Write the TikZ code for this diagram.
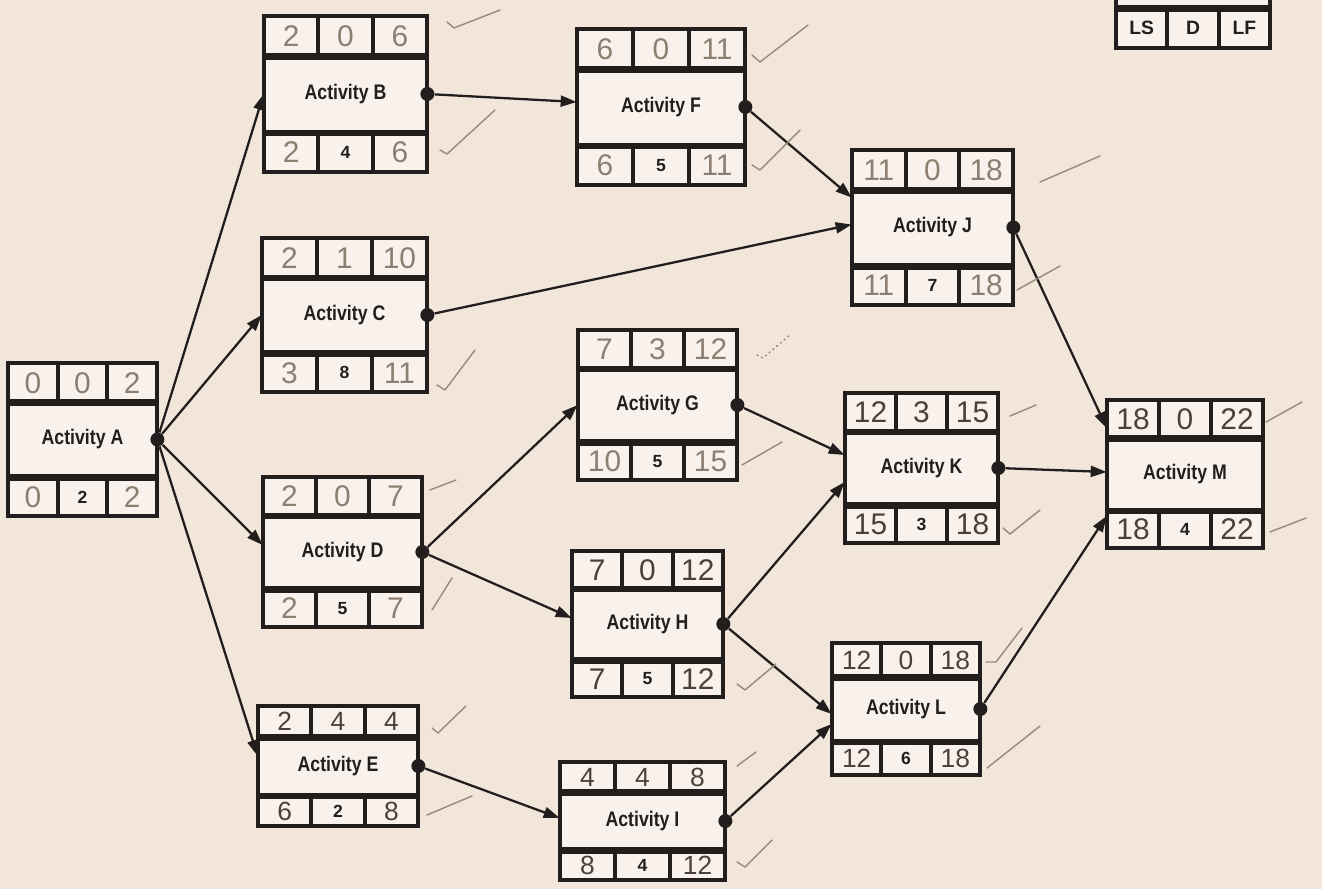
\documentclass[tikz,border=0pt]{standalone}
\usepackage{fontspec}
\setmainfont{Liberation Sans}
\newfontfamily\labelfont[FakeStretch=0.84]{Liberation Sans}
\usetikzlibrary{arrows.meta,calc}
\definecolor{paper}{RGB}{242,230,218}
\definecolor{boxfill}{RGB}{249,242,236}
\definecolor{ink}{RGB}{35,30,30}
\definecolor{pencil}{RGB}{140,126,112}
\definecolor{pen}{RGB}{75,64,58}
\definecolor{tick}{RGB}{150,138,126}
\tikzset{
 boxframe/.style={draw=ink, line width=2.6pt, fill=boxfill},
 rowline/.style={draw=ink, line width=3.8pt},
 cellline/.style={draw=ink, line width=2.4pt},
 actnode/.style={rectangle, inner sep=0pt, font=\labelfont\bfseries\fontsize{12}{14}\selectfont, text=ink},
 hw/.style={font=\fontsize{17}{19}\selectfont, text=pencil, inner sep=0pt},
 hwdark/.style={hw, text=pen},
 hwsmall/.style={font=\fontsize{15}{17}\selectfont},
 dur/.style={font=\bfseries\fontsize{10}{12}\selectfont, text=ink, inner sep=0pt},
 conn/.style={draw=ink, line width=1.3pt, -{Triangle[length=3.2mm,width=2.2mm]}},
 enddot/.style={circle, fill=ink, inner sep=0pt, minimum size=2.8mm},
 tickmark/.style={draw=tick, line width=0.8pt, line cap=round, line join=round},
}
% name, x1, y1, x2, y2, label
\newcommand\actbox[6]{%
 \pgfmathsetmacro\bw{#4-#2}\pgfmathsetmacro\bh{#5-#3}%
 \pgfmathsetmacro\ya{#3+0.26*\bh}\pgfmathsetmacro\yb{#5-0.25*\bh}%
 \pgfmathsetmacro\xa{#2+\bw/3}\pgfmathsetmacro\xb{#2+2*\bw/3}%
 \draw[boxframe] (#2,#3) rectangle (#4,#5);
 \draw[rowline] (#2,\ya) -- (#4,\ya) (#2,\yb) -- (#4,\yb);
 \draw[cellline] (\xa,#3) -- (\xa,\ya) (\xb,#3) -- (\xb,\ya) (\xa,\yb) -- (\xa,#5) (\xb,\yb) -- (\xb,#5);
 \node[actnode, minimum width={\bw*0.2mm}, minimum height={\bh*0.2mm}] (#1) at ({(#2+#4)/2},{(#3+#5)/2}) {#6};
 \coordinate (#1-t1) at ({#2+\bw/6},{(#3+\ya)/2});
 \coordinate (#1-t2) at ({#2+\bw/2},{(#3+\ya)/2});
 \coordinate (#1-t3) at ({#2+5*\bw/6},{(#3+\ya)/2});
 \coordinate (#1-b1) at ({#2+\bw/6},{(\yb+#5)/2});
 \coordinate (#1-b2) at ({#2+\bw/2},{(\yb+#5)/2});
 \coordinate (#1-b3) at ({#2+5*\bw/6},{(\yb+#5)/2});
}
% name, style, t1, t2, t3, b1, b2, b3
\newcommand\actvals[8]{%
 \node[#2] (#1-n1) at (#1-t1) {#3};
 \node[#2] (#1-n2) at (#1-t2) {#4};
 \node[#2] (#1-n3) at (#1-t3) {#5};
 \node[#2] (#1-n4) at (#1-b1) {#6};
 \node[dur] (#1-n5) at (#1-b2) {#7};
 \node[#2] (#1-n6) at (#1-b3) {#8};
}
\begin{document}
\begin{tikzpicture}[x=0.2mm,y=-0.2mm]
\useasboundingbox (0,0) rectangle (1322,889);
\clip (0,0) rectangle (1322,889);
\fill[paper] (0,0) rectangle (1322,889);

% legend (partly cut off at the top)
\actbox{legend}{1116}{-110}{1270}{48}{}
\node[dur, font=\bfseries\fontsize{11}{13}\selectfont] (legend-ls) at (legend-b1) {LS};
\node[dur, font=\bfseries\fontsize{11}{13}\selectfont] (legend-d) at (legend-b2) {D};
\node[dur, font=\bfseries\fontsize{11}{13}\selectfont] (legend-lf) at (legend-b3) {LF};

\actbox{A}{8}{363}{157}{516}{Activity A}
\actbox{B}{264}{16}{427}{172}{Activity B}
\actbox{C}{262}{238}{427}{392}{Activity C}
\actbox{D}{263}{477}{422}{627}{Activity D}
\actbox{E}{258}{706}{418}{826}{Activity E}
\actbox{F}{577}{29}{745}{185}{Activity F}
\actbox{G}{578}{330}{737}{480}{Activity G}
\actbox{H}{572}{551}{723}{697}{Activity H}
\actbox{I}{560}{762}{725}{880}{Activity I}
\actbox{J}{852}{150}{1013}{305}{Activity J}
\actbox{K}{845}{393}{998}{543}{Activity K}
\actbox{L}{832}{643}{980}{775}{Activity L}
\actbox{M}{1107}{400}{1263}{548}{Activity M}

\actvals{A}{hw}{0}{0}{2}{0}{2}{2}
\actvals{B}{hw}{2}{0}{6}{2}{4}{6}
\actvals{C}{hw}{2}{1}{10}{3}{8}{11}
\actvals{D}{hw}{2}{0}{7}{2}{5}{7}
\actvals{E}{hwdark,hwsmall}{2}{4}{4}{6}{2}{8}
\actvals{F}{hw}{6}{0}{11}{6}{5}{11}
\actvals{G}{hw}{7}{3}{12}{10}{5}{15}
\actvals{H}{hwdark}{7}{0}{12}{7}{5}{12}
\actvals{I}{hwdark,hwsmall}{4}{4}{8}{8}{4}{12}
\actvals{J}{hw}{11}{0}{18}{11}{7}{18}
\actvals{K}{hwdark}{12}{3}{15}{15}{3}{18}
\actvals{L}{hwdark,hwsmall}{12}{0}{18}{12}{6}{18}
\actvals{M}{hwdark}{18}{0}{22}{18}{4}{22}

% end dots
\foreach \n in {A,B,C,D,E,F,G,H,I,J,K,L}{
 \node[enddot] (\n-dot) at (\n.east) {};
}

% connectors
\draw[conn] (A-dot) -- (B.west);
\draw[conn] (A-dot) -- (C.west);
\draw[conn] (A-dot) -- ($(D.west)+(0,-7)$);
\draw[conn] (A-dot) -- ($(E.west)+(0,-10)$);
\draw[conn] (B-dot) -- ($(F.west)+(0,-5)$);
\draw[conn] (F-dot) -- ($(J.west)+(0,-30)$);
\draw[conn] (C-dot) -- ($(J.west)+(0,-3)$);
\draw[conn] (D-dot) -- (G.west);
\draw[conn] (D-dot) -- ($(H.west)+(0,-6)$);
\draw[conn] (E-dot) -- ($(I.west)+(0,-3)$);
\draw[conn] (G-dot) -- ($(K.west)+(0,-13)$);
\draw[conn] (H-dot) -- ($(K.west)+(0,14)$);
\draw[conn] (H-dot) -- ($(L.west)+(0,5)$);
\draw[conn] (I-dot) -- ($(L.west)+(0,15)$);
\draw[conn] (J-dot) -- ($(M.west)+(0,-46)$);
\draw[conn] (K-dot) -- ($(M.west)+(0,-2)$);
\draw[conn] (L-dot) -- ($(M.west)+(0,42)$);

% hand-drawn check marks
\draw[tickmark] (447,22) -- (454,28) -- (500,10);
\draw[tickmark] (440,150) -- (447,154) -- (495,110);
\draw[tickmark] (752,55) -- (760,62) -- (808,25);
\draw[tickmark] (752,165) -- (760,170) -- (800,130);
\draw[tickmark] (1040,182) -- (1100,156);
\draw[tickmark] (1017,290) -- (1060,266);
\draw[tickmark] (437,385) -- (445,390) -- (475,350);
\draw[tickmark, dotted] (757,355) -- (763,358) -- (790,335);
\draw[tickmark] (742,465) -- (782,442);
\draw[tickmark] (1010,416) -- (1036,405);
\draw[tickmark] (1003,528) -- (1010,534) -- (1040,510);
\draw[tickmark] (1266,422) -- (1302,402);
\draw[tickmark] (1270,532) -- (1306,518);
\draw[tickmark] (430,490) -- (456,480);
\draw[tickmark] (432,610) -- (452,578);
\draw[tickmark] (737,684) -- (745,690) -- (776,664);
\draw[tickmark] (986,662) -- (996,662) -- (1022,628);
\draw[tickmark] (987,768) -- (1040,726);
\draw[tickmark] (432,728) -- (438,733) -- (466,706);
\draw[tickmark] (427,815) -- (472,796);
\draw[tickmark] (737,766) -- (756,752);
\draw[tickmark] (737,862) -- (745,867) -- (772,840);
\end{tikzpicture}
\end{document}
